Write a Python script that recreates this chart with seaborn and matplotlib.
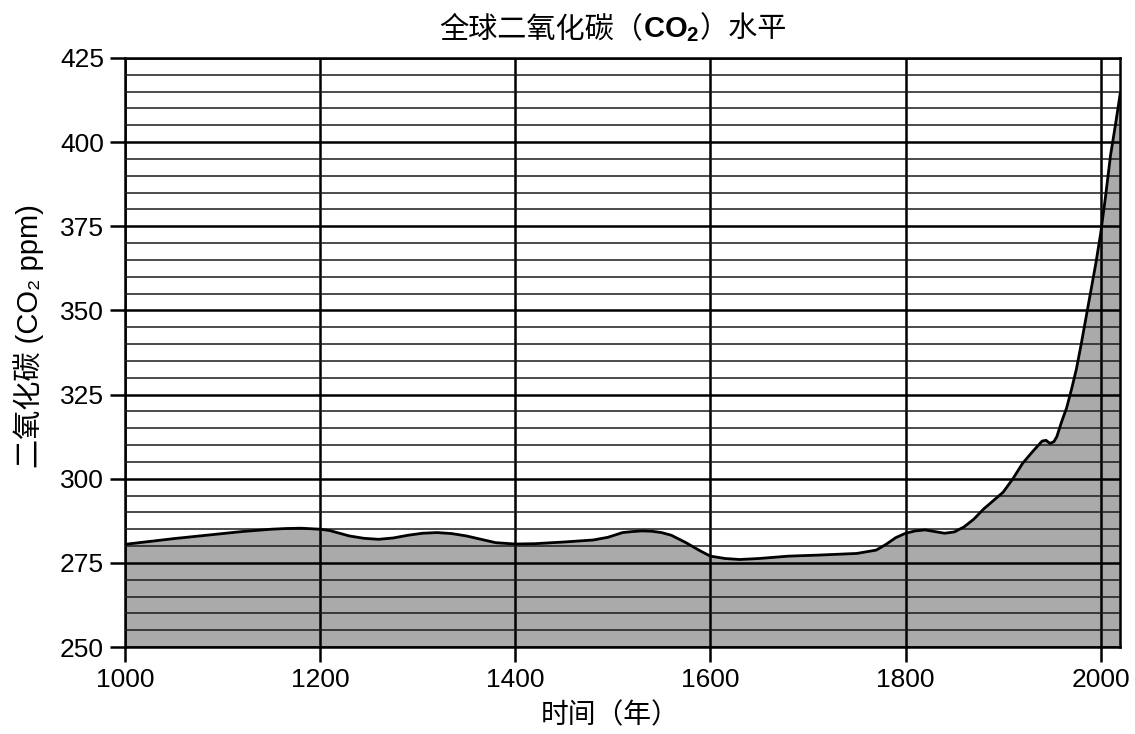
import matplotlib
matplotlib.use("Agg")
import matplotlib.pyplot as plt
import numpy as np
import pandas as pd
import seaborn as sns

# values
years = [1000, 1050, 1100, 1120, 1150, 1165, 1180, 1200, 1210, 1230, 1245, 1260,
         1275, 1290, 1305, 1320, 1335, 1350, 1365, 1380, 1400, 1420, 1450, 1480,
         1495, 1510, 1520, 1530, 1540, 1550, 1560, 1575, 1590, 1600, 1615, 1630,
         1650, 1680, 1710, 1750, 1770, 1780, 1790, 1800, 1810, 1820, 1830, 1840,
         1850, 1860, 1870, 1880, 1890, 1900, 1910, 1920, 1930, 1940, 1944, 1948,
         1952, 1955, 1960, 1965, 1970, 1975, 1980, 1985, 1990, 1995, 2000, 2005,
         2010, 2015, 2020]
co2_ppm = [280.5, 282.2, 283.7, 284.3, 285.0, 285.2, 285.3, 285.0, 284.6, 283.0, 282.3, 282.0,
           282.4, 283.2, 283.8, 284.0, 283.7, 283.0, 282.0, 281.0, 280.6, 280.7, 281.2, 281.8,
           282.6, 284.0, 284.3, 284.5, 284.4, 284.0, 283.2, 281.0, 278.5, 277.0, 276.3, 276.0,
           276.3, 277.0, 277.3, 277.8, 278.8, 280.5, 282.5, 283.8, 284.5, 284.8, 284.3, 283.8,
           284.2, 285.7, 288.0, 291.0, 293.5, 296.0, 300.0, 304.6, 308.0, 311.2, 311.4, 310.5,
           311.0, 312.5, 317.0, 321.0, 326.5, 332.5, 340.0, 348.0, 356.0, 364.0, 373.0, 384.0,
           396.0, 405.0, 414.5]
x_ticks = [1000, 1200, 1400, 1600, 1800, 2000]
y_ticks = [250, 275, 300, 325, 350, 375, 400, 425]
y_minor = list(range(250, 426, 5))
title_parts = ["全球二氧化碳（", "$\\mathbf{CO_2}$", "）水平"]

df = pd.DataFrame({"year": years, "ppm": co2_ppm})

sns.set_style("white")
fonts = ['Liberation Sans', 'Noto Sans CJK SC', 'DejaVu Sans']
plt.rcParams['font.family'] = fonts
plt.rcParams['mathtext.fontset'] = 'custom'
plt.rcParams['mathtext.rm'] = 'Liberation Sans'
plt.rcParams['mathtext.bf'] = 'Liberation Sans:bold'
plt.rcParams['text.color'] = 'black'
plt.rcParams['axes.labelcolor'] = 'black'
plt.rcParams['xtick.color'] = 'black'
plt.rcParams['ytick.color'] = 'black'

fig = plt.figure(figsize=(11.35, 7.34), dpi=100)
ax = fig.add_axes([0.110, 0.1185, 0.877, 0.8025])

ax.fill_between(df["year"], 250, df["ppm"], color="#aaaaaa", lw=0, zorder=1)
sns.lineplot(data=df, x="year", y="ppm", color="black", lw=2, ax=ax, zorder=4)

ax.set_xlim(1000, 2020)
ax.set_ylim(250, 425)
ax.set_xticks(x_ticks)
ax.set_yticks(y_ticks)
ax.set_yticks(y_minor, minor=True)
ax.set_axisbelow(False)
ax.grid(which="major", axis="both", color="black", lw=1.8, zorder=3)
ax.grid(which="minor", axis="y", color="#1a1a1a", lw=1.1, zorder=3)

for s in ax.spines.values():
    s.set_color("black")
    s.set_linewidth(1.8)
    s.set_visible(True)

ax.tick_params(which="major", direction="out", length=11, width=1.8, color="black",
               labelcolor="black", labelsize=19, pad=4, left=True, bottom=True)
ax.tick_params(which="minor", length=0)

ax.set_xlabel("时间（年）", fontsize=20, color="black")
ax.set_ylabel("二氧化碳 (CO₂ ppm)", fontsize=21, color="black")
ax.xaxis.set_label_coords(0.4874, -0.094)
ax.yaxis.set_label_coords(-0.081, 0.528)

# title in three pieces so that only CO2 is bold
y0 = 1 - 37 / 734
t1 = fig.text(0, y0, title_parts[0], fontsize=21, va="baseline", ha="left", color="black")
t2 = fig.text(0, y0, title_parts[1], fontsize=21, va="baseline", ha="left", color="black")
t3 = fig.text(0, y0, title_parts[2], fontsize=21, va="baseline", ha="left", color="black")
fig.canvas.draw()
r = fig.canvas.get_renderer()
w = [t.get_window_extent(r).width for t in (t1, t2, t3)]
fw = fig.bbox.width
x0 = 613 - sum(w) / 2
t1.set_position((x0 / fw, y0))
t2.set_position(((x0 + w[0]) / fw, y0))
t3.set_position(((x0 + w[0] + w[1]) / fw, y0))

fig.savefig("out.png", dpi=100)
